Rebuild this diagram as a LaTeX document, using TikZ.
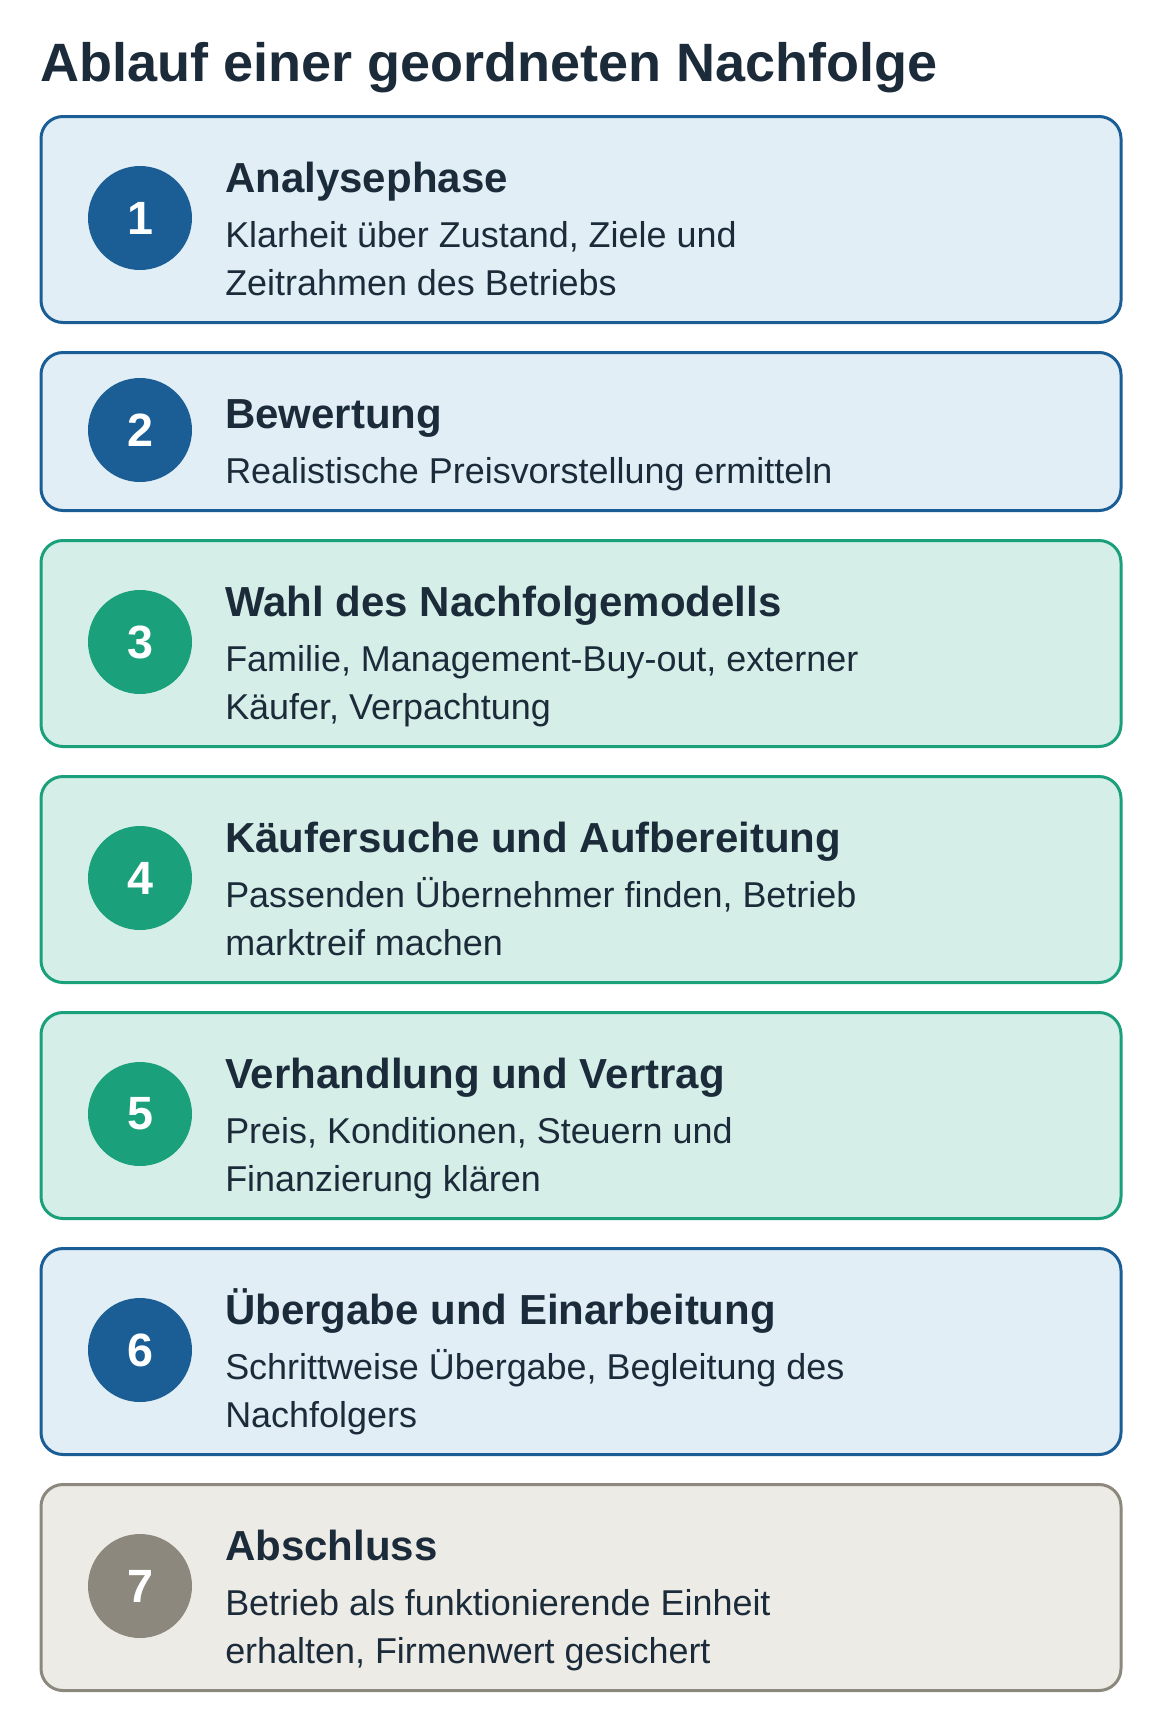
\documentclass[tikz,border=0pt]{standalone}
\usepackage{fontspec}
\setmainfont{Liberation Sans}
\definecolor{ink}{HTML}{1C2B3A}
\definecolor{bluestroke}{HTML}{1A5E95}
\definecolor{bluefill}{HTML}{E1EEF6}
\definecolor{greenstroke}{HTML}{1BA07C}
\definecolor{greenfill}{HTML}{D5EFE8}
\definecolor{graystroke}{HTML}{8C887E}
\definecolor{grayfill}{HTML}{ECEBE6}
\tikzset{
  card/.style={draw, line width=2.25pt, rounded corners=16.5pt, anchor=north west,
    minimum width=810pt, inner sep=0pt},
  bluecard/.style={card, draw=bluestroke, fill=bluefill},
  greencard/.style={card, draw=greenstroke, fill=greenfill},
  graycard/.style={card, draw=graystroke, fill=grayfill},
  tall/.style={minimum height=154.5pt},
  short/.style={minimum height=118.5pt},
  num/.style={circle, minimum size=78pt, inner sep=0pt, text=white,
    font=\fontsize{35}{35}\selectfont\bfseries},
  bluenum/.style={num, fill=bluestroke},
  greennum/.style={num, fill=greenstroke},
  graynum/.style={num, fill=graystroke},
  ttl/.style={anchor=base west, inner sep=0pt, text=ink,
    font=\fontsize{31.5}{31.5}\selectfont\bfseries},
  dsc/.style={anchor=base west, inner sep=0pt, text=ink,
    font=\fontsize{26.95}{26.95}\selectfont},
  heading/.style={anchor=base west, inner sep=0pt, text=ink,
    font=\fontsize{40.5}{40.5}\selectfont\bfseries}
}
\begin{document}
\begin{tikzpicture}[x=0.75pt,y=-0.75pt]
\useasboundingbox[fill=white] (0,0) rectangle (1160,1728);
\node[heading] (title) at (40,81) {Ablauf einer geordneten Nachfolge};

% 1
\node[bluecard, tall] (c1) at (39.5,115) {};
\node[bluenum] (n1) at (140,218) {1};
\node[ttl] (t1) at (225,192) {Analysephase};
\node[dsc] (d1a) at (225,247) {Klarheit über Zustand, Ziele und};
\node[dsc] (d1b) at (225,295) {Zeitrahmen des Betriebs};

% 2
\node[bluecard, short] (c2) at (39.5,351) {};
\node[bluenum] (n2) at (140,430) {2};
\node[ttl] (t2) at (225,428) {Bewertung};
\node[dsc] (d2a) at (225,483) {Realistische Preisvorstellung ermitteln};

% 3
\node[greencard, tall] (c3) at (39.5,539) {};
\node[greennum] (n3) at (140,642) {3};
\node[ttl] (t3) at (225,616) {Wahl des Nachfolgemodells};
\node[dsc] (d3a) at (225,671) {Familie, Management-Buy-out, externer};
\node[dsc] (d3b) at (225,719) {Käufer, Verpachtung};

% 4
\node[greencard, tall] (c4) at (39.5,775) {};
\node[greennum] (n4) at (140,878) {4};
\node[ttl] (t4) at (225,852) {Käufersuche und Aufbereitung};
\node[dsc] (d4a) at (225,907) {Passenden Übernehmer finden, Betrieb};
\node[dsc] (d4b) at (225,955) {marktreif machen};

% 5
\node[greencard, tall] (c5) at (39.5,1011) {};
\node[greennum] (n5) at (140,1114) {5};
\node[ttl] (t5) at (225,1088) {Verhandlung und Vertrag};
\node[dsc] (d5a) at (225,1143) {Preis, Konditionen, Steuern und};
\node[dsc] (d5b) at (225,1191) {Finanzierung klären};

% 6
\node[bluecard, tall] (c6) at (39.5,1247) {};
\node[bluenum] (n6) at (140,1350) {6};
\node[ttl] (t6) at (225,1324) {Übergabe und Einarbeitung};
\node[dsc] (d6a) at (225,1379) {Schrittweise Übergabe, Begleitung des};
\node[dsc] (d6b) at (225,1427) {Nachfolgers};

% 7
\node[graycard, tall] (c7) at (39.5,1483) {};
\node[graynum] (n7) at (140,1586) {7};
\node[ttl] (t7) at (225,1560) {Abschluss};
\node[dsc] (d7a) at (225,1615) {Betrieb als funktionierende Einheit};
\node[dsc] (d7b) at (225,1663) {erhalten, Firmenwert gesichert};
\end{tikzpicture}
\end{document}
